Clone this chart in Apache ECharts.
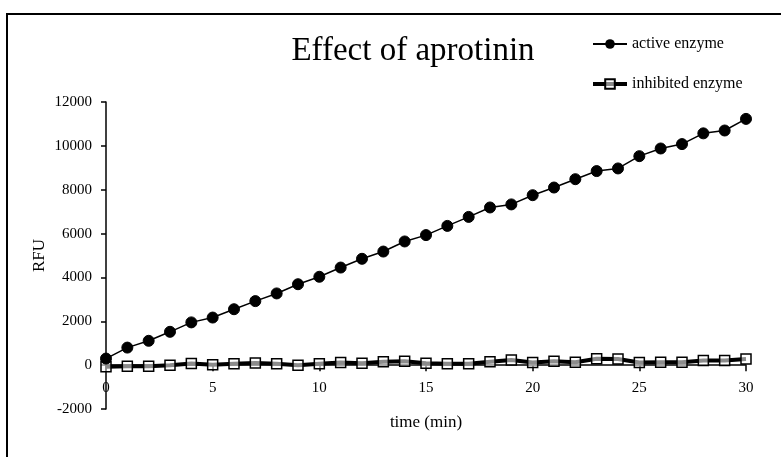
<!DOCTYPE html>
<html>
<head>
<meta charset="utf-8">
<script src="https://cdn.jsdelivr.net/npm/echarts@6/dist/echarts.min.js"></script>
<style>html,body{margin:0;padding:0;background:#fff}#c{width:781px;height:457px}</style>
</head>
<body>
<div id="c"></div>
<script>
const times = [0,1,2,3,4,5,6,7,8,9,10,11,12,13,14,15,16,17,18,19,20,21,22,23,24,25,26,27,28,29,30];
const activeEnzyme = [300,800,1110,1520,1950,2170,2550,2920,3270,3690,4030,4450,4850,5180,5640,5930,6350,6760,7190,7330,7750,8100,8480,8850,8970,9530,9880,10080,10570,10700,11230];
const inhibitedEnzyme = [-70,-50,-50,0,70,15,60,100,60,0,60,120,90,150,180,90,60,60,150,230,120,180,130,290,280,120,130,130,210,210,280];
const yTicks = [-2000,0,2000,4000,6000,8000,10000,12000];
const xTicks = [0,5,10,15,20,25,30];

const serif = "'Liberation Serif','DejaVu Serif',serif";
const chart = echarts.init(document.getElementById('c'), null, {renderer:'canvas'});
chart.setOption({
  animation:false,
  backgroundColor:'#fff',
  graphic:[{type:'rect',shape:{x:7,y:14,width:900,height:600},style:{fill:'none',stroke:'#000',lineWidth:2},silent:true}],
  title:{text:'Effect of aprotinin',left:413,top:35,textAlign:'center',padding:0,textStyle:{fontFamily:serif,fontSize:33,fontWeight:'normal',color:'#000'}},
  legend:{orient:'vertical',left:591,top:36,padding:0,itemGap:24,itemWidth:34,itemHeight:12,
    textStyle:{fontFamily:serif,fontSize:16,color:'#000'},
    data:[{name:'active enzyme'},{name:'inhibited enzyme',lineStyle:{width:4}}]},
  grid:{left:106,right:35,top:102,bottom:48,containLabel:false,outerBoundsMode:'none'},
  xAxis:{type:'value',min:xTicks[0],max:xTicks[xTicks.length-1],interval:5,
    name:'time (min)',nameLocation:'middle',nameGap:5,
    nameTextStyle:{fontFamily:serif,fontSize:17,color:'#000'},
    axisLine:{onZero:true,lineStyle:{color:'#000',width:1.5}},
    axisTick:{show:true,length:6,lineStyle:{color:'#000',width:1.5}},
    axisLabel:{fontFamily:serif,fontSize:15,color:'#000',margin:-28},
    splitLine:{show:false}},
  yAxis:{type:'value',min:yTicks[0],max:yTicks[yTicks.length-1],interval:2000,
    name:'RFU',nameLocation:'middle',nameGap:58,nameMoveOverlap:false,
    nameTextStyle:{fontFamily:serif,fontSize:17,color:'#000'},
    axisLine:{show:true,onZero:false,lineStyle:{color:'#000',width:1.5}},
    axisTick:{show:true,length:5,lineStyle:{color:'#000',width:1.5}},
    axisLabel:{fontFamily:serif,fontSize:15,color:'#000',margin:14,formatter:v=>String(v)},
    splitLine:{show:false}},
  series:[
    {name:'active enzyme',type:'line',data:times.map((t,i)=>[t,activeEnzyme[i]]),
      symbol:'circle',symbolSize:11,
      lineStyle:{color:'#000',width:1.5},
      itemStyle:{color:'#000',borderColor:'#000'},z:3},
    {name:'inhibited enzyme',type:'line',data:times.map((t,i)=>[t,inhibitedEnzyme[i]]),
      symbol:'rect',symbolSize:10,
      lineStyle:{color:'#000',width:4},
      itemStyle:{color:'rgba(255,255,255,0.55)',borderColor:'#000',borderWidth:1.5},z:2}
  ]
});
</script>
</body>
</html>
